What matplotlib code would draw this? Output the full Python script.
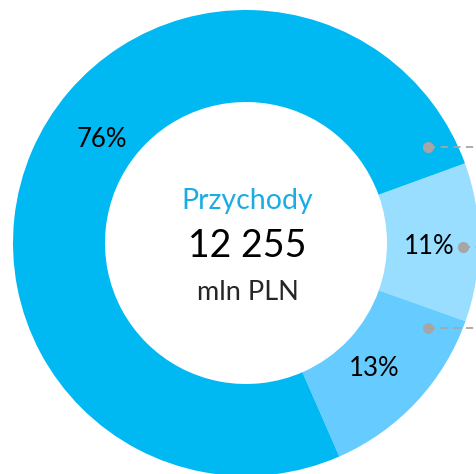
import matplotlib.pyplot as plt

labels = ['11%', '13%', '76%']
values = [11, 13, 76]
colors = ['#99DDFF', '#66CCFF', '#00B8F2']
title = 'Przychody'
total = '12 255'
unit = 'mln PLN'

W, H = 477, 474
cx, cy = 246, H - 243
R, r = 233, 141

fig = plt.figure(figsize=(W / 100, H / 100), dpi=100)
ax = fig.add_axes([0, 0, 1, 1])

plt.rcParams['font.family'] = ['Lato', 'DejaVu Sans']

wedges, _ = ax.pie(values, colors=colors, startangle=20, counterclock=False,
                   center=(cx, cy), radius=R, frame=True,
                   wedgeprops=dict(width=R - r, linewidth=0))
ax.set_xlim(0, W)
ax.set_ylim(0, H)
ax.set_aspect('equal')
ax.axis('off')

# percentage labels
ax.text(429, H - 246, labels[0], fontsize=18.5, ha='center', va='center')
ax.text(374, H - 369, labels[1], fontsize=18.5, ha='center', va='center')
ax.text(102, H - 139, labels[2], fontsize=18.5, ha='center', va='center')

# leader lines running off the right edge
grey = '#A6A6A6'
for x0, y0 in [(428, 147), (463, 247), (428, 328)]:
    ax.plot([x0, W + 5], [H - y0, H - y0], color=grey, lw=1.3, ls=(0, (4, 3)))
    ax.plot(x0, H - y0, 'o', color=grey, ms=7)

# centre text
ax.text(cx + 1, H - 201, title, color='#1AADE4', fontsize=20.5, ha='center', va='center')
ax.text(cx + 1, H - 246, total, color='black', fontsize=27, ha='center', va='center')
ax.text(cx + 2, H - 292, unit, color='#262626', fontsize=19.5, ha='center', va='center')

fig.savefig('out.png', dpi=100)
